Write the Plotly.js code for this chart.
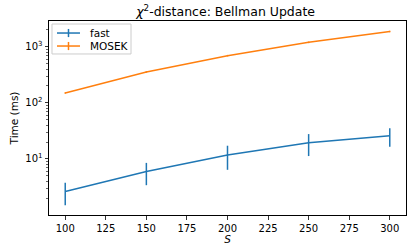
<!DOCTYPE html>
<html>
<head>
<meta charset="utf-8">
<script src="https://cdn.plot.ly/plotly-3.0.1.min.js"></script>
<style>html,body{margin:0;padding:0;background:#fff}#chart{width:414px;height:249px}</style>
</head>
<body>
<div id="chart"></div>
<script>
const sizes = [100, 150, 200, 250, 300];
const fastTime = [2.62, 5.95, 11.8, 19.5, 25.8];
const fastErr = [1.13, 2.55, 5.4, 8.25, 9.3];
const mosekTime = [150, 356, 695, 1200, 1880];
const mosekErr = [5, 11, 22, 38, 55];
const seriesNames = ['fast', 'MOSEK'];
const seriesColors = ['#1f77b4', '#ff7f0e'];
const xTicks = [100, 125, 150, 175, 200, 225, 250, 275, 300];
const yTicks = [10, 100, 1000];
const yTickText = ['10<sup>1</sup>', '10<sup>2</sup>', '10<sup>3</sup>'];

const minorY = [];
for (let d = 1; d <= 1000; d *= 10) for (let k = 2; k <= 9; k++) minorY.push(d * k);

const FF = 'DejaVu Sans';
const ys = [fastTime, mosekTime];
const es = [fastErr, mosekErr];

const traces = seriesNames.map((n, i) => ({
  x: sizes, y: ys[i], name: n, mode: 'lines', type: 'scatter', showlegend: false,
  line: {color: seriesColors[i], width: 1.5},
  error_y: {type: 'data', array: es[i], visible: true, color: seriesColors[i], thickness: 1.5, width: 0}
}));

// legend drawn as shapes + annotations (paper coords of plot area)
const shapes = [{type: 'rect', xref: 'paper', yref: 'paper', x0: 0.0084, x1: 0.2297, y0: 0.830, y1: 0.9845,
                 line: {color: '#cccccc', width: 1}, fillcolor: 'rgba(255,255,255,0.8)', layer: 'above'}];
const annotations = [];
const legY = [0.938, 0.871];
seriesNames.forEach((n, i) => {
  shapes.push({type: 'line', xref: 'paper', yref: 'paper', x0: 0.0224, x1: 0.0868, y0: legY[i], y1: legY[i],
               line: {color: seriesColors[i], width: 1.5}, layer: 'above'});
  shapes.push({type: 'line', xref: 'paper', yref: 'paper', x0: 0.0546, x1: 0.0546, y0: legY[i] - 0.021, y1: legY[i] + 0.021,
               line: {color: seriesColors[i], width: 1.5}, layer: 'above'});
  annotations.push({xref: 'paper', yref: 'paper', x: 0.109, y: legY[i], xanchor: 'left', yanchor: 'middle',
                    text: n, showarrow: false, font: {family: FF, size: 10.5, color: '#000'}});
});

const layout = {
  width: 414, height: 249,
  margin: {l: 49, r: 8, t: 21, b: 34},
  paper_bgcolor: '#fff', plot_bgcolor: '#fff',
  font: {family: FF, size: 10, color: '#000'},
  showlegend: false,
  shapes: shapes,
  annotations: annotations,
  title: {text: '<i>χ</i><sup>2</sup>-distance: Bellman Update', font: {family: FF, size: 12.5, color: '#000'},
          x: 0.545, xanchor: 'center', y: 0.952, yanchor: 'middle'},
  xaxis: {range: [90, 310], tickvals: xTicks, ticks: 'outside', ticklen: 3.5, tickwidth: 0.8, tickcolor: '#000',
          showline: true, linecolor: '#000', linewidth: 1, mirror: true, showgrid: false, zeroline: false,
          tickfont: {family: FF, size: 10, color: '#000'},
          title: {text: '<i>S</i>', font: {family: FF, size: 10.5, color: '#000'}, standoff: 2}},
  yaxis: {type: 'log', range: [0, 3.46], tickvals: yTicks, ticktext: yTickText, ticks: 'outside', ticklen: 3.5,
          tickwidth: 0.8, tickcolor: '#000', showline: true, linecolor: '#000', linewidth: 1, mirror: true,
          showgrid: false, zeroline: false,
          tickfont: {family: FF, size: 10, color: '#000'},
          minor: {tickvals: minorY, ticks: 'outside', ticklen: 2, tickwidth: 0.6, tickcolor: '#000', showgrid: false},
          title: {text: 'Time (ms)', font: {family: FF, size: 10.5, color: '#000'}, standoff: 4}}
};

Plotly.newPlot('chart', traces, layout, {displayModeBar: false, staticPlot: true});
</script>
</body>
</html>
